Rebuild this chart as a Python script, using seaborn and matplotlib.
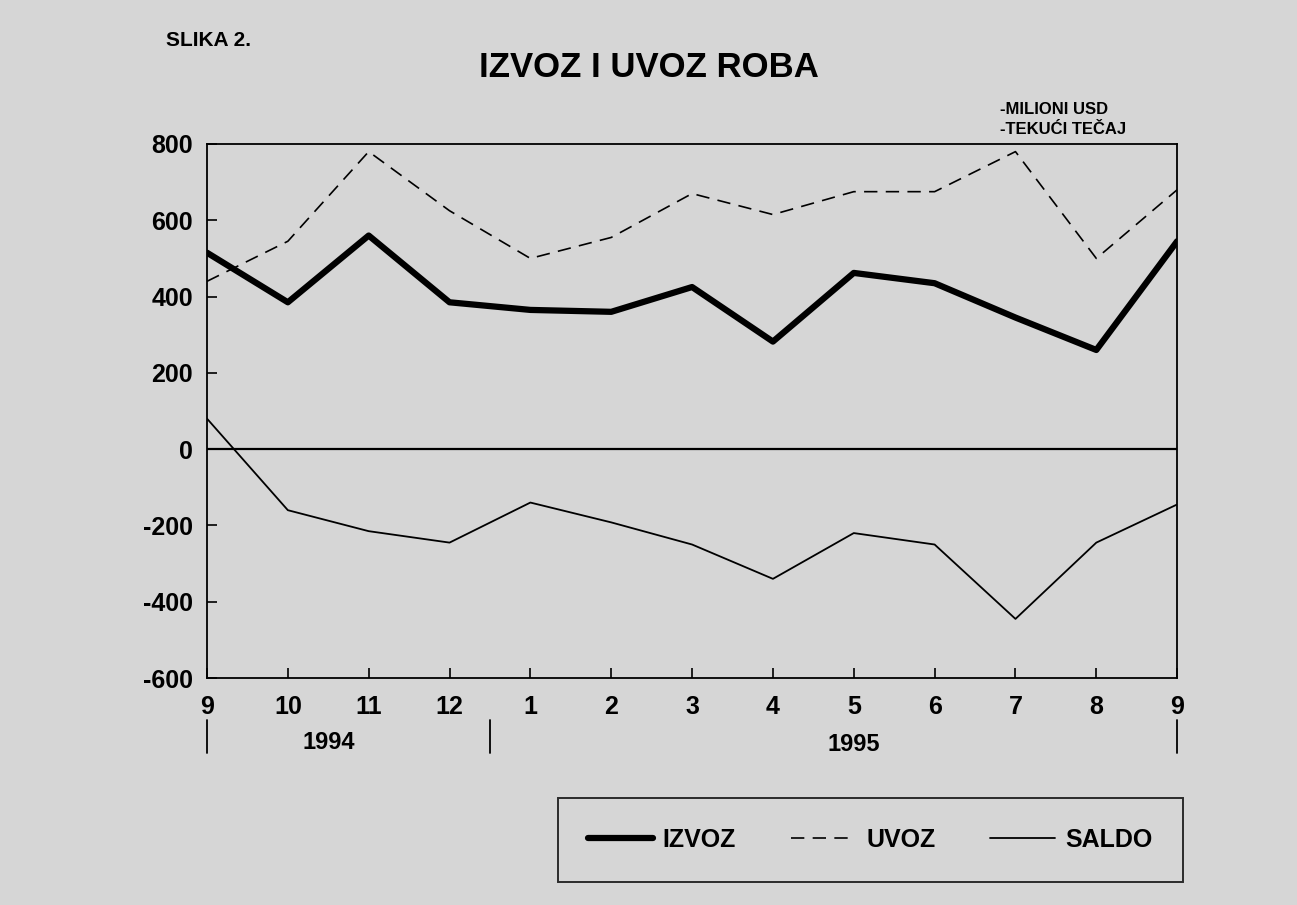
import numpy as np
import pandas as pd
import matplotlib.pyplot as plt
import seaborn as sns

months = ["9", "10", "11", "12", "1", "2", "3", "4", "5", "6", "7", "8", "9"]
izvoz = [515, 385, 560, 385, 365, 360, 425, 282, 462, 435, 345, 260, 545]
uvoz = [440, 545, 780, 625, 500, 555, 670, 615, 675, 675, 780, 500, 680]
saldo = [80, -160, -215, -245, -140, -192, -250, -340, -220, -250, -445, -245, -145]

bg = "#d6d6d6"
sns.set_style("ticks")
plt.rcParams["font.family"] = ["Liberation Sans", "DejaVu Sans"]
plt.rcParams["font.weight"] = "bold"
plt.rcParams["axes.unicode_minus"] = False
for k in ["text.color", "xtick.color", "ytick.color", "axes.labelcolor"]:
    plt.rcParams[k] = "black"

df = pd.DataFrame({
    "pos": np.arange(len(months)),
    "IZVOZ": izvoz,
    "UVOZ": uvoz,
    "SALDO": saldo,
})

fig = plt.figure(figsize=(12.97, 9.05), dpi=100, facecolor=bg)
ax = fig.add_axes([0.1596, 0.2508, 0.748, 0.5901])
ax.set_facecolor(bg)

sns.lineplot(data=df, x="pos", y="IZVOZ", ax=ax, color="black", lw=4.5, label="IZVOZ")
sns.lineplot(data=df, x="pos", y="UVOZ", ax=ax, color="black", lw=1.2,
             linestyle=(0, (8, 5)), label="UVOZ")
sns.lineplot(data=df, x="pos", y="SALDO", ax=ax, color="black", lw=1.3, label="SALDO")
ax.axhline(0, color="black", lw=1.6)

ax.set_xlim(0, len(months) - 1)
ax.set_ylim(-600, 800)
ax.set_yticks(range(-600, 801, 200))
ax.set_xticks(df["pos"])
ax.set_xticklabels(months)
ax.set_xlabel("")
ax.set_ylabel("")
ax.tick_params(axis="both", direction="in", length=7, width=1.2, labelsize=18, pad=10)
ax.tick_params(axis="x", pad=12)
for s in ax.spines.values():
    s.set_linewidth(1.3)
    s.set_color("black")
ax.get_legend().remove()

# year labels and separators under the axis
xt = ax.get_xaxis_transform()
ax.text(1.5, -0.12, "1994", transform=xt, ha="center", va="center",
        fontsize=17, fontweight="bold")
ax.text(8.0, -0.125, "1995", transform=xt, ha="center", va="center",
        fontsize=17, fontweight="bold")
for xp in [0, 3.5, 12]:
    ax.plot([xp, xp], [-0.078, -0.14], transform=xt,
            color="black", lw=1.3, clip_on=False)

fig.text(0.128, 0.955, "SLIKA 2.", fontsize=15, fontweight="bold", va="center")
fig.text(0.5, 0.925, "IZVOZ I UVOZ ROBA", fontsize=25, fontweight="bold",
         ha="center", va="center")
fig.text(0.771, 0.879, "-MILIONI USD", fontsize=12, fontweight="bold", va="center")
fig.text(0.771, 0.857, "-TEKUĆI TEČAJ", fontsize=12, fontweight="bold", va="center")

handles, labels = ax.get_lines()[:3], ["IZVOZ", "UVOZ", "SALDO"]
leg = fig.legend(handles, labels, ncol=3, loc="center",
                 bbox_to_anchor=(0.671, 0.072), frameon=True, fancybox=False,
                 fontsize=18, handlelength=2.6, columnspacing=2.2,
                 borderpad=1.2, borderaxespad=0, handletextpad=0.4,
                 facecolor=bg, edgecolor="black")
leg.get_frame().set_linewidth(1.4)
for t in leg.get_texts():
    t.set_fontweight("bold")

fig.savefig("out.png", dpi=100, facecolor=bg)
